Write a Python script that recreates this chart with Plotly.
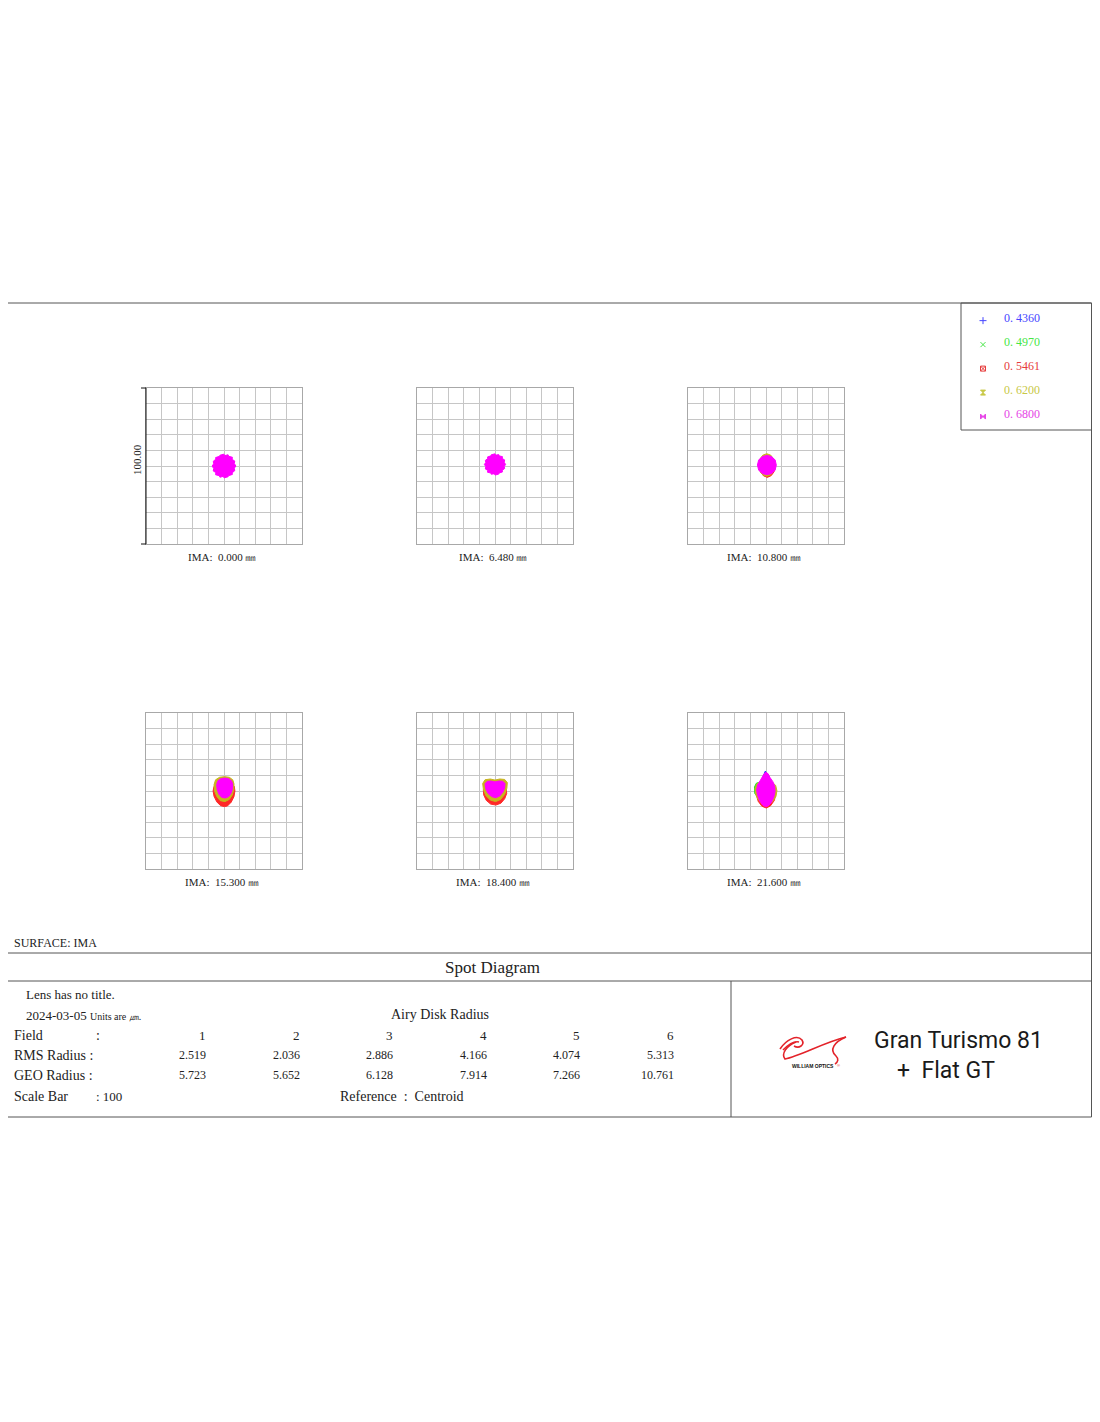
import plotly.graph_objects as go

W, H = 1100, 1422
PAGE_PAD = 8  # ページ本体の余白
FIG_W, FIG_H = W - PAGE_PAD, H - PAGE_PAD
SERIF = "Liberation Serif"
SANS = "Roboto"
TXT = "#222222"
FRAME = "#555555"

# 波長とスポット色
WAVELENGTHS = [0.4360, 0.4970, 0.5461, 0.6200, 0.6800]
WAVE_LABELS = ["0. 4360", "0. 4970", "0. 5461", "0. 6200", "0. 6800"]
SPOT_COLORS = ["#2828ff", "#28e028", "#ff2828", "#c8b41e", "#ff00ff"]
TEXT_COLORS = ["#4646ff", "#46e646", "#e63c3c", "#c8c846", "#e646e6"]
SYMBOLS = ["cross-thin-open", "x-thin-open", "square-x-open", "hourglass", "bowtie"]

# 視野
FIELD_MM = [0.000, 6.480, 10.800, 15.300, 18.400, 21.600]
RMS_RADIUS = [2.519, 2.036, 2.886, 4.166, 4.074, 5.313]
GEO_RADIUS = [5.723, 5.652, 6.128, 7.914, 7.266, 10.761]
SCALE_BAR = 100

# スポット外形 (um, 各波長: x list, y list)
FIELD1_SPOTS = {
    0.4360: ([5, 3.5, 0, -3.5, -5, -3.5, 0, 3.5], [0, 3.5, 5, 3.5, 0, -3.5, -5, -3.5]),
    0.4970: ([5.5, 3.9, 0, -3.9, -5.5, -3.9, 0, 3.9], [0, 3.9, 5.5, 3.9, 0, -3.9, -5.5, -3.9]),
    0.5461: ([6, 4.2, 0, -4.2, -6, -4.2, 0, 4.2], [0, 4.2, 6, 4.2, 0, -4.2, -6, -4.2]),
    0.6200: ([6.5, 4.6, 0, -4.6, -6.5, -4.6, 0, 4.6], [0, 4.6, 6.5, 4.6, 0, -4.6, -6.5, -4.6]),
    0.6800: ([7.6, 6.6, 6.9, 5.2, 5.4, 3.0, 2.6, 0.4, 0, -2.6, -2.9, -5.4, -5.2, -6.9, -6.6, -7.6,
              -6.6, -6.9, -5.2, -5.4, -3.0, -2.6, -0.4, 0, 2.6, 2.9, 5.4, 5.2, 6.9, 6.6],
             [0, 1.6, 3.2, 4.2, 5.6, 6.2, 7.2, 6.6, 7.6, 6.9, 6.2, 5.4, 4.4, 3.0, 1.4, 0,
              -1.6, -3.2, -4.2, -5.6, -6.2, -7.2, -6.6, -7.6, -6.9, -6.2, -5.4, -4.4, -3.0, -1.4]),
}
FIELD2_SPOTS = {
    0.4360: ([4.5, 3.2, 0, -3.2, -4.5, -3.2, 0, 3.2], [1, 4.2, 5.5, 4.2, 1, -2.2, -3.5, -2.2]),
    0.4970: ([5, 3.5, 0, -3.5, -5, -3.5, 0, 3.5], [1, 4.5, 6, 4.5, 1, -2.5, -4, -2.5]),
    0.5461: ([5.5, 3.9, 0, -3.9, -5.5, -3.9, 0, 3.9], [1, 4.9, 6.5, 4.9, 1, -2.9, -4.5, -2.9]),
    0.6200: ([6, 4.2, 0, -4.2, -6, -4.2, 0, 4.2], [1, 5.2, 7, 5.2, 1, -3.2, -5, -3.2]),
    0.6800: ([6.8, 5.9, 6.2, 4.6, 4.8, 2.6, 2.4, 0.3, 0, -2.4, -2.6, -4.8, -4.6, -6.2, -5.9, -6.8,
              -5.9, -6.2, -4.6, -4.8, -2.6, -2.4, -0.3, 0, 2.4, 2.6, 4.8, 4.6, 6.2, 5.9],
             [1, 2.4, 3.9, 4.8, 6.0, 6.5, 7.3, 6.9, 7.8, 7.2, 6.5, 5.8, 4.8, 3.6, 2.3, 1,
              -0.4, -1.9, -2.8, -4.0, -4.5, -5.3, -4.9, -5.8, -5.2, -4.5, -3.8, -2.8, -1.6, -0.3]),
}
FIELD3_SPOTS = {
    0.4360: ([4.6, 3.4, 0.6, -2.2, -3.4, -2.2, 0.6, 3.4], [0.6, 3.4, 4.6, 3.4, 0.6, -2.2, -3.4, -2.2]),
    0.4970: ([5.2, 3.8, 0.6, -2.6, -4.0, -2.6, 0.6, 3.8], [0.3, 3.5, 4.8, 3.5, 0.3, -2.9, -4.2, -2.9]),
    0.5461: ([5.8, 5.1, 3.3, 0.8, -1.7, -3.5, -4.2, -3.5, -1.7, 0.8, 3.3, 5.1],
             [-0.5, 2.8, 5.2, 6.1, 5.2, 2.8, -0.5, -3.8, -6.2, -7.3, -6.2, -3.8]),
    0.6200: ([5.7, 5.0, 3.1, 0.5, -2.1, -4.0, -4.7, -4.0, -2.1, 0.5, 3.1, 5.0],
             [0.6, 4.2, 6.9, 7.9, 6.9, 4.2, 0.6, -3.0, -5.6, -6.6, -5.6, -3.0]),
    0.6800: ([6.6, 5.9, 3.7, 0.6, -2.5, -4.7, -5.5, -4.7, -2.5, 0.6, 3.7, 5.9],
             [0.6, 3.8, 6.0, 6.8, 6.0, 3.8, 0.6, -2.6, -4.8, -5.6, -4.8, -2.6]),
}
FIELD4_SPOTS = {
    0.4360: ([4.4, 3.2, 0.4, -2.4, -3.6, -2.4, 0.4, 3.2], [2, 4.8, 6, 4.8, 2, -0.8, -2, -0.8]),
    0.4970: ([5, 3.6, 0.4, -2.8, -4.2, -2.8, 0.4, 3.6], [1.5, 5, 6.5, 5, 1.5, -2, -3.5, -2]),
    0.5461: ([0.4, 4.0, 6.6, 7.0, 6.4, 4.6, 2.2, 0.2, -2.2, -4.6, -6.4, -7.0, -6.4, -3.4],
             [5.5, 5.0, 3.0, 0.0, -3.6, -7.2, -9.6, -10.0, -9.4, -7.0, -3.4, 0.0, 3.0, 5.0]),
    0.6200: ([0.4, 3.4, 5.6, 6.4, 6.3, 5.3, 3.4, 0.6, -2.4, -4.6, -6.0, -6.4, -5.4, -2.8],
             [9.2, 8.8, 7.2, 4.6, 1.0, -2.6, -5.4, -6.8, -6.2, -3.6, -0.2, 4.0, 7.2, 8.8]),
    0.6800: ([0.5, 3.0, 4.8, 5.6, 5.5, 4.6, 3.0, 0.8, -1.6, -3.3, -4.4, -4.7, -3.9, -2.0],
             [8.3, 7.9, 6.6, 4.4, 1.5, -1.3, -3.6, -4.5, -4.0, -2.0, 1.0, 4.2, 6.6, 7.9]),
}
FIELD5_SPOTS = {
    0.4360: ([4, 2.8, 0, -2.8, -4, -2.8, 0, 2.8], [1, 3.8, 5, 3.8, 1, -1.8, -3, -1.8]),
    0.4970: ([5, 3.5, 0, -3.5, -5, -3.5, 0, 3.5], [1, 4.5, 6, 4.5, 1, -2.5, -4, -2.5]),
    0.5461: ([0, 4.5, 7.2, 7.5, 6.2, 3.8, 0.6, -2.8, -5.6, -7.2, -7.5, -4.5],
             [3.0, 2.8, 1.2, -1.6, -5.0, -7.8, -9.0, -8.4, -6.0, -2.6, 0.8, 2.8]),
    0.6200: ([0, 3.0, 6.2, 7.9, 7.6, 6.2, 3.6, 0.4, -3.0, -5.8, -7.4, -7.9, -6.4, -3.0],
             [7.0, 7.7, 7.4, 5.4, 1.8, -2.2, -5.4, -6.8, -5.8, -3.0, 0.8, 4.8, 7.2, 7.7]),
    0.6800: ([0, 2.5, 5.0, 6.4, 6.2, 5.0, 3.0, 0.5, -2.2, -4.6, -6.0, -6.4, -5.0, -2.5],
             [5.8, 6.4, 6.2, 4.8, 2.0, -0.8, -3.2, -4.3, -3.6, -1.4, 1.6, 4.6, 6.2, 6.4]),
}
FIELD6_SPOTS = {
    0.4360: ([-0.4, 1.2, 2.5, 3.0, 2.0, 0.0, -2.0, -3.0, -2.5, -1.6],
             [12.8, 10.0, 4.0, -2.0, -7.0, -8.0, -7.0, -2.0, 4.0, 10.0]),
    0.4970: ([0, 4, 5.5, 4, 0, -5.0, -7.2, -7.4, -6.2],
             [7, 5, 0, -4, -6, -4.6, -1.5, 2.6, 5.0]),
    0.5461: ([0, 4.6, 6.2, 5.4, 2.8, 0.2, -2.6, -5.0, -6.2, -4.6],
             [2.0, 1.2, -2.0, -6.0, -9.6, -10.9, -9.8, -6.6, -2.6, 1.2]),
    0.6200: ([0, 3.6, 6.2, 7.0, 6.4, 4.4, 1.0, -2.4, -5.0, -6.6, -7.0, -5.8, -3.2],
             [6.5, 6.0, 3.6, 0.2, -3.4, -6.6, -8.6, -8.0, -5.6, -2.0, 1.6, 4.6, 6.2]),
    0.6800: ([0, 1.4, 2.6, 4.4, 5.6, 5.8, 5.0, 3.4, 1.4, -0.4, -2.2, -4.0, -5.4, -6.0, -5.4, -4.0, -2.4, -1.2],
             [12.0, 11.0, 8.6, 6.0, 3.0, -0.4, -4.0, -7.4, -9.6, -10.0, -9.0, -6.4, -2.8, 0.6, 3.8, 6.4, 8.8, 11.0]),
}
ALL_SPOTS = [FIELD1_SPOTS, FIELD2_SPOTS, FIELD3_SPOTS, FIELD4_SPOTS, FIELD5_SPOTS, FIELD6_SPOTS]

# パネル配置 (画面 px)
PANEL_LEFT = [146, 417, 688]
PANEL_TOP = [388, 713]
PANEL_SIZE = 156


def px_x(v):
    return (v - PAGE_PAD) / FIG_W


def px_y(v):
    return 1 - (v - PAGE_PAD) / FIG_H


fig = go.Figure()
layout = dict(width=FIG_W, height=FIG_H, margin=dict(l=0, r=0, t=0, b=0),
              paper_bgcolor="white", plot_bgcolor="rgba(0,0,0,0)",
              showlegend=False)

half = SCALE_BAR / 2
for i, spots in enumerate(ALL_SPOTS):
    col, row = i % 3, i // 3
    x0 = PANEL_LEFT[col]
    y0 = PANEL_TOP[row]
    sfx = "" if i == 0 else str(i + 1)
    axis = dict(range=[-half, half], dtick=10, tick0=0, showgrid=True, gridcolor="#c6c6c6",
                gridwidth=1, zeroline=True, zerolinecolor="#c6c6c6", zerolinewidth=1,
                showline=True, mirror=True, linecolor="#a8a8a8", linewidth=1,
                showticklabels=False, ticks="", fixedrange=True)
    layout["xaxis" + sfx] = dict(axis, domain=[px_x(x0), px_x(x0 + PANEL_SIZE)], anchor="y" + sfx)
    layout["yaxis" + sfx] = dict(axis, domain=[px_y(y0 + PANEL_SIZE), px_y(y0)], anchor="x" + sfx)
    for w, c in zip(WAVELENGTHS, SPOT_COLORS):
        xs, ys = spots[w]
        fig.add_trace(go.Scatter(x=xs + xs[:1], y=ys + ys[:1], mode="lines", fill="toself",
                                 fillcolor=c, line=dict(color=c, width=1),
                                 xaxis="x" + sfx, yaxis="y" + sfx, hoverinfo="skip"))

# 全体用の座標 (画面 px)
layout["xaxis7"] = dict(domain=[0, 1], range=[PAGE_PAD, PAGE_PAD + FIG_W], visible=False,
                        fixedrange=True, anchor="y7")
layout["yaxis7"] = dict(domain=[0, 1], range=[PAGE_PAD + FIG_H, PAGE_PAD], visible=False,
                        fixedrange=True, anchor="x7")

# 凡例用
layout["xaxis8"] = dict(domain=[px_x(961), px_x(1092)], range=[0, 131], visible=False,
                        fixedrange=True, anchor="y8")
layout["yaxis8"] = dict(domain=[px_y(430), px_y(303)], range=[4.56, -0.735], visible=False,
                        fixedrange=True, anchor="x8")
fig.add_trace(go.Scatter(x=[22] * len(WAVELENGTHS), y=list(range(len(WAVELENGTHS))), mode="markers",
                         marker=dict(symbol=SYMBOLS, size=5, color=TEXT_COLORS,
                                     line=dict(color=TEXT_COLORS, width=1)),
                         xaxis="x8", yaxis="y8", hoverinfo="skip"))

shapes = []
annotations = []


def line(x0, y0, x1, y1, color=FRAME, width=1):
    shapes.append(dict(type="line", xref="x7", yref="y7", x0=x0, y0=y0, x1=x1, y1=y1,
                       line=dict(color=color, width=width)))


def txt(x, y, s, size=13, anchor="left", font=SERIF, color=TXT, angle=0, yshift=0):
    xs = {"left": -2, "right": 2}.get(anchor, 0)
    annotations.append(dict(x=x, y=y, xref="x7", yref="y7", text=s, showarrow=False,
                            xanchor=anchor, yanchor="middle", textangle=angle, yshift=yshift,
                            xshift=xs, font=dict(family=font, size=size, color=color)))


# 枠
shapes.append(dict(type="rect", xref="x7", yref="y7", x0=7, y0=303, x1=1091.5, y1=1117,
                   line=dict(color=FRAME, width=1)))
shapes.append(dict(type="rect", xref="x7", yref="y7", x0=961, y0=303, x1=1091.5, y1=430,
                   line=dict(color=FRAME, width=1)))
line(7, 953, 1092, 953)
line(7, 981, 1092, 981)
line(731, 981, 731, 1117)

# スケールバー
sb_top, sb_bot = PANEL_TOP[0], PANEL_TOP[0] + PANEL_SIZE
line(PANEL_LEFT[0], sb_top, PANEL_LEFT[0], sb_bot, color="#111111")
line(PANEL_LEFT[0] - 5, sb_top, PANEL_LEFT[0], sb_top, color="#111111")
line(PANEL_LEFT[0] - 5, sb_bot, PANEL_LEFT[0], sb_bot, color="#111111")
txt(137, (sb_top + sb_bot) / 2 - 6, f"{SCALE_BAR:.2f}", size=11, anchor="center", angle=-90)

# IMA ラベル
for i, f in enumerate(FIELD_MM):
    col, row = i % 3, i // 3
    cx = PANEL_LEFT[col] + PANEL_SIZE / 2 - 2
    cy = PANEL_TOP[row] + PANEL_SIZE + 13
    txt(cx, cy, f"IMA:  {f:.3f} ㎜", size=11, anchor="center")

# 凡例テキスト
for k, (lab, c) in enumerate(zip(WAVE_LABELS, TEXT_COLORS)):
    annotations.append(dict(x=41, y=k, xref="x8", yref="y8", text=lab, showarrow=False,
                            xanchor="left", yanchor="middle", yshift=3,
                            font=dict(family=SERIF, size=12, color=c)))

# 下部テキスト
txt(14, 943, "SURFACE: IMA", size=12)
txt(492, 967, "Spot Diagram", size=17, anchor="center")
txt(26, 994, "Lens has no title.", size=13)
txt(26, 1015, "2024-03-05 <span style='font-size:10px'>Units are ㎛.</span>", size=13)
txt(440, 1014, "Airy Disk Radius", size=14, anchor="center")
txt(14, 1035, "Field", size=14)
txt(96, 1035, ":", size=14)
txt(14, 1055, "RMS Radius :", size=14)
txt(14, 1075, "GEO Radius :", size=14)
txt(14, 1096, "Scale Bar", size=14)
txt(96, 1096, f": {SCALE_BAR}", size=13)
txt(402, 1096, "Reference  :  Centroid", size=14, anchor="center")
for i in range(len(FIELD_MM)):
    rx = 206 + 93.6 * i
    txt(rx, 1035, str(i + 1), size=13, anchor="right")
    txt(rx, 1055, f"{RMS_RADIUS[i]:.3f}", size=12, anchor="right")
    txt(rx, 1075, f"{GEO_RADIUS[i]:.3f}", size=12, anchor="right")

# ロゴ
logo_red = "#e3232a"
for p in ["M 780 1049 C 786 1040, 797 1034, 802 1040 C 805 1045, 799 1049, 794 1046",
          "M 796 1042 C 786 1046, 781 1054, 785 1059 C 800 1056, 825 1042, 846 1037",
          "M 846 1037 C 834 1042, 829 1050, 836 1056 C 839 1059, 838 1062, 835 1064",
          "M 783 1050 C 789 1044, 795 1041, 799 1042"]:
    shapes.append(dict(type="path", xref="x7", yref="y7", path=p,
                       line=dict(color=logo_red, width=1.6)))
txt(813, 1066, "<b>WILLIAM OPTICS</b>", size=5, anchor="center", font="Liberation Sans", color="#111111")
txt(838, 1065, "®", size=4, anchor="center", font="Liberation Sans", color=logo_red)
txt(874, 1040, "Gran Turismo 81", size=23, font=SANS, color="#1a1a1a")
txt(897, 1070, "+  Flat GT", size=23, font=SANS, color="#1a1a1a")

layout["shapes"] = shapes
layout["annotations"] = annotations
fig.update_layout(**layout)

fig.write_html("out.html")
